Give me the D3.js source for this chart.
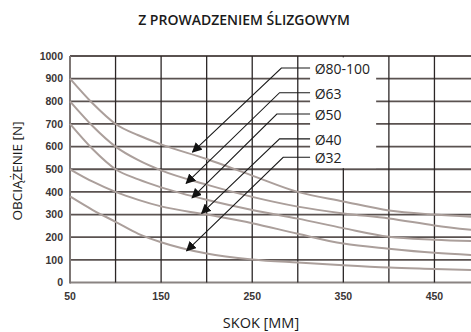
<!DOCTYPE html>
<html>
<head>
<meta charset="utf-8">
<script src="https://cdn.jsdelivr.net/npm/d3@7"></script>
<style>
  body { margin: 0; background: #fff; }
  svg { display: block; }
</style>
</head>
<body>
<svg id="chart" width="471" height="332"></svg>
<script>
// skok [mm] -> obciazenie [N]
const strokes = [50, 75, 100, 125, 150, 200, 250, 300, 350, 400, 450, 500];
const load80 = [900, 790, 700, 650, 610, 545, 472, 400, 358, 318, 300, 288];
const load63 = [800, 690, 600, 540, 495, 432, 378, 335, 305, 283, 252, 228];
const load50 = [700, 588, 500, 455, 420, 365, 320, 282, 240, 202, 189, 182];
const load40 = [500, 445, 400, 365, 336, 300, 262, 215, 172, 149, 131, 120];
const load32 = [380, 320, 268, 215, 178, 128, 102, 88, 76, 66, 60, 54];

const xTicks = [50, 150, 250, 350, 450];
const xGrid = [100, 150, 200, 250, 300, 350, 400, 450, 500];
const yTicks = [0, 100, 200, 300, 400, 500, 600, 700, 800, 900, 1000];

// labels with leader arrows: line level, left end of the horizontal part, arrow tip
const labels = [
  {name: "Ø80-100", ly: 947, lx: 282, tx: 184.5, ty: 576},
  {name: "Ø63",     ly: 838, lx: 280, tx: 177.5, ty: 438},
  {name: "Ø50",     ly: 744, lx: 277, tx: 184,   ty: 374},
  {name: "Ø40",     ly: 634, lx: 280, tx: 194.5, ty: 305},
  {name: "Ø32",     ly: 553, lx: 284, tx: 178,   ty: 140}
];

const series = [load80, load63, load50, load40, load32];

const svg = d3.select("#chart");
const x = d3.scaleLinear().domain([50, 500]).range([70, 480]);
const y = d3.scaleLinear().domain([0, 1000]).range([282.5, 56]);

// horizontal grid
svg.append("g")
    .selectAll("line")
    .data(yTicks)
    .join("line")
    .attr("x1", x(50)).attr("x2", x(500))
    .attr("y1", d => y(d)).attr("y2", d => y(d))
    .attr("stroke", d => d == 0 ? "#8a8482" : "#5a5250")
    .attr("stroke-width", d => d == 0 ? 2.2 : 1.8);

// vertical grid
svg.append("g")
    .selectAll("line")
    .data(xGrid)
    .join("line")
    .attr("x1", d => x(d)).attr("x2", d => x(d))
    .attr("y1", y(1000)).attr("y2", y(0))
    .attr("stroke", "#2b2626")
    .attr("stroke-width", 1.3);

svg.append("line")
    .attr("x1", x(50)).attr("x2", x(50))
    .attr("y1", y(1000)).attr("y2", y(0) + 1)
    .attr("stroke", "#7d7674")
    .attr("stroke-width", 2);

// curves
const line = d3.line()
    .x((d, i) => x(strokes[i]))
    .y(d => y(d))
    .curve(d3.curveMonotoneX);

svg.append("g")
    .selectAll("path")
    .data(series)
    .join("path")
    .attr("d", line)
    .attr("fill", "none")
    .attr("stroke", "#ab9f9b")
    .attr("stroke-width", 2);

// white box behind the labels
svg.append("rect")
    .attr("x", x(313.5)).attr("y", y(994))
    .attr("width", x(386) - x(313.5))
    .attr("height", y(505) - y(994))
    .attr("fill", "#fff");

// arrows
svg.append("defs").append("marker")
    .attr("id", "arr")
    .attr("viewBox", "0 0 10 10")
    .attr("refX", 9).attr("refY", 5)
    .attr("markerWidth", 10).attr("markerHeight", 10)
    .attr("markerUnits", "userSpaceOnUse")
    .attr("orient", "auto")
    .append("path")
    .attr("d", "M0,0L10,5L0,10z")
    .attr("fill", "#111");

const lead = svg.append("g");
lead.selectAll("path")
    .data(labels)
    .join("path")
    .attr("d", d => `M${x(313.5)},${y(d.ly)}L${x(d.lx)},${y(d.ly)}L${x(d.tx)},${y(d.ty)}`)
    .attr("fill", "none")
    .attr("stroke", "#1a1a1a")
    .attr("stroke-width", 1.1)
    .attr("marker-end", "url(#arr)");

lead.selectAll("text")
    .data(labels)
    .join("text")
    .attr("x", x(318.5))
    .attr("y", d => y(d.ly) + 1)
    .attr("dy", "0.35em")
    .attr("font-family", "Open Sans")
    .attr("font-size", 14)
    .attr("fill", "#222")
    .text(d => d.name);

// tick labels
svg.append("g")
    .attr("font-family", "Liberation Sans")
    .attr("font-weight", "bold")
    .attr("font-size", 10.5)
    .attr("fill", "#3a3636")
    .attr("text-anchor", "end")
    .selectAll("text")
    .data(yTicks)
    .join("text")
    .attr("x", 63)
    .attr("y", d => y(d))
    .attr("dy", "0.35em")
    .text(d => d);

svg.append("g")
    .attr("font-family", "Liberation Sans")
    .attr("font-weight", "bold")
    .attr("font-size", 10.5)
    .attr("fill", "#3a3636")
    .attr("text-anchor", "middle")
    .selectAll("text")
    .data(xTicks)
    .join("text")
    .attr("x", d => x(d))
    .attr("y", 296)
    .attr("dy", "0.35em")
    .text(d => d);

// titles
svg.append("text")
    .attr("x", 244).attr("y", 20)
    .attr("dy", "0.35em")
    .attr("text-anchor", "middle")
    .attr("font-family", "Open Sans")
    .attr("font-weight", 600)
    .attr("font-size", 14)
    .attr("fill", "#1a1a1a")
    .text("Z PROWADZENIEM ŚLIZGOWYM");

svg.append("text")
    .attr("x", 261).attr("y", 323)
    .attr("dy", "0.35em")
    .attr("text-anchor", "middle")
    .attr("font-family", "Open Sans")
    .attr("font-size", 14.5)
    .attr("fill", "#1a1a1a")
    .text("SKOK [MM]");

svg.append("text")
    .attr("transform", "translate(17,171) rotate(-90)")
    .attr("dy", "0.35em")
    .attr("text-anchor", "middle")
    .attr("font-family", "Open Sans")
    .attr("font-size", 13.5)
    .attr("fill", "#1a1a1a")
    .text("OBCIĄŻENIE [N]");
</script>
</body>
</html>
